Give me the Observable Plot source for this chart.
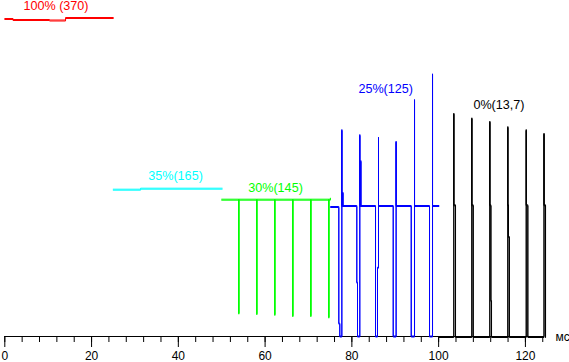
<!DOCTYPE html>
<html>
<head>
<meta charset="utf-8">
<script src="https://cdn.jsdelivr.net/npm/d3@7"></script>
<script src="https://cdn.jsdelivr.net/npm/@observablehq/plot@0.6"></script>
<style>
  html, body { margin: 0; padding: 0; background: #fff; }
  svg { display: block; }
</style>
</head>
<body>
<div id="chart"></div>
<script>
// Trace samples: [time in ms, trace level (arbitrary units above baseline)]
const red = [[0,318],[1.9,318],[1.9,317],[10.3,317],[10.3,316.5],[14,316.5],[14,319],[25,319]];
const cyan = [[25,147.3],[31.3,147.3],[31.3,148.3],[50.1,148.3]];
const green = [
  [50,137.3],[53.94,137.3],[53.94,23.3],[53.94,137.3],
  [58.09,137.3],[58.09,22.7],[58.09,137.3],
  [62.24,137.3],[62.24,22],[62.24,137.3],
  [66.39,137.3],[66.39,20.7],[66.39,137.3],
  [70.54,137.3],[70.54,20.7],[70.54,137.3],
  [74.69,137.3],[74.69,19.3],[74.69,137.3],[75.05,137.3],[75.05,138.3]
];
const blue = [
  [75.1,130],[76.99,130],[76.99,13.3],[77.22,13.3],[77.22,0.5],[77.69,0.5],[77.69,207],[77.69,131],[77.92,131],[77.92,144.3],[77.92,131],
  [81.14,131],[81.14,54.3],[81.3,54.3],[81.3,0.5],[81.83,0.5],[81.83,202],[81.83,131],[82.06,131],[82.06,176],[82.06,131],
  [85.45,131],[85.45,0.5],[85.91,0.5],[85.91,69.3],[86.14,69.3],[86.14,199.3],[86.14,131],
  [89.53,131],[89.53,0.5],[90.2,0.5],[90.2,195.3],[90.2,131],
  [93.68,131],[93.68,0.5],[94.44,0.5],[94.44,237],[94.44,131],
  [97.9,131],[97.9,0.5],[98.59,0.5],[98.59,262.7],[98.59,131],
  [100.05,131]
];
const black = [
  [100,0],[103.5,0],[103.5,223.3],[103.5,131.7],[103.89,131.7],[103.89,0],
  [107.65,0],[107.65,218.7],[107.65,131.7],[107.97,131.7],[107.97,0],
  [111.8,0],[111.8,215.3],[111.8,131.7],[112.05,131.7],[112.05,36],[112.19,36],[112.19,0],
  [115.95,0],[115.95,210],[115.95,131.7],[116.1,131.7],[116.1,100],[116.3,100],[116.3,0],
  [120.19,0],[120.19,207],[120.19,131.7],[120.56,131.7],[120.56,0],
  [124.29,0],[124.29,203.3],[124.29,131.7],[124.64,131.7],[124.64,0]
];

const seriesNames = ["red", "cyan", "green", "blue", "black"];
const seriesData = [red, cyan, green, blue, black];
const seriesColors = ["#ff0000", "#00ffff", "#00ff00", "#0000ff", "#000000"];

// Series labels and their anchor (ms, level)
const labelTexts = ["100% (370)", "35%(165)", "30%(145)", "25%(125)", "0%(13,7)"];
const labelX = [11.8, 39.35, 62.4, 87.8, 113.9];
const labelY = [331, 160.2, 149, 248, 231.7];

// Axis ticks
const majorTicks = [0, 20, 40, 60, 80, 100, 120];
const minorTicks = d3.range(0, 125, 4);
const unitLabel = "мс";

const labelRows = labelTexts.map((t, i) => ({text: t, x: labelX[i], y: labelY[i], color: seriesColors[i]}));

const marks = [];
// axis line
marks.push(Plot.ruleY([0], {x1: minorTicks[0], x2: minorTicks[minorTicks.length - 1], stroke: "#000", strokeWidth: 1}));
marks.push(Plot.axisX({ticks: minorTicks, tickSize: 6, tickFormat: () => "", label: null, stroke: "#000"}));
marks.push(Plot.axisX({ticks: majorTicks, tickSize: 11, tickPadding: 4, tickFormat: d => String(d), label: null, fontSize: 12, fill: "#000", stroke: "#000"}));

seriesData.forEach((pts, i) => {
  const opts = {x: d => d[0], y: d => d[1], stroke: seriesColors[i], strokeWidth: 1, curve: "linear"};
  marks.push(Plot.line(pts, opts));
  marks.push(Plot.line(pts, {...opts, dy: 1}));
});

marks.push(Plot.text(labelRows, {x: "x", y: "y", text: "text", fill: d => d.color, fontSize: 12.6}));
marks.push(Plot.text([unitLabel], {x: 128.6, y: 0, dy: 1, text: d => d, fill: "#000", fontSize: 12}));

const chart = Plot.plot({
  width: 569,
  height: 362,
  marginLeft: 4.3,
  marginRight: 22.4,
  marginTop: 0,
  marginBottom: 26,
  x: {domain: [0, 125], label: null},
  y: {domain: [0, 336], axis: null, label: null},
  color: {type: "identity"},
  style: {fontFamily: "'Liberation Sans', Arial, sans-serif", fontSize: "12px", background: "#fff", color: "#000"},
  marks
});
document.getElementById("chart").appendChild(chart);
</script>
</body>
</html>
